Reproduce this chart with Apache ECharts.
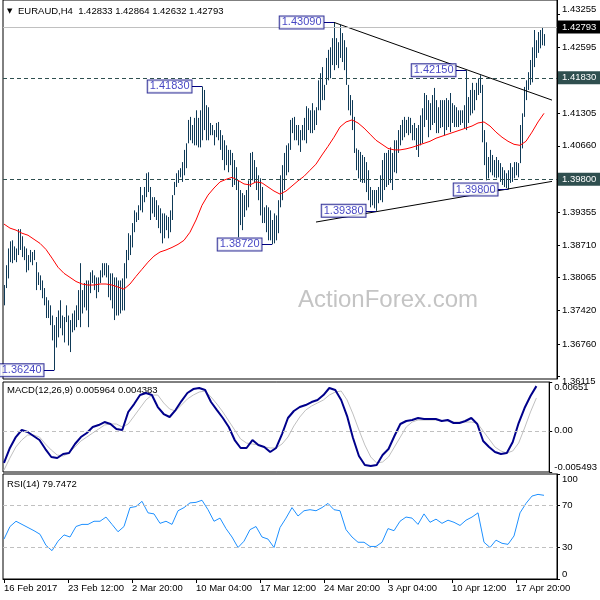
<!DOCTYPE html>
<html>
<head>
<meta charset="utf-8">
<script src="https://cdn.jsdelivr.net/npm/echarts@6.0.0/dist/echarts.min.js"></script>
<style>
  html, body { margin: 0; padding: 0; background: #fff; }
  #chart { width: 600px; height: 600px; }
</style>
</head>
<body>
<div id="chart"></div>
<script>
// EURAUD H4 bars (high / low per bar)
const highs = [
  1.3792, 1.3831, 1.3864, 1.3878, 1.3880, 1.3868, 1.3864, 1.3902, 1.3902, 1.3888,
  1.3868, 1.3864, 1.3851, 1.3861, 1.3857, 1.3861, 1.3837, 1.3817, 1.3811, 1.3801,
  1.3786, 1.3768, 1.3762, 1.3752, 1.3732, 1.3713, 1.3729, 1.3742, 1.3762, 1.3732,
  1.3729, 1.3752, 1.3732, 1.3723, 1.3736, 1.3742, 1.3752, 1.3782, 1.3835, 1.3782,
  1.3796, 1.3801, 1.3801, 1.3817, 1.3821, 1.3811, 1.3807, 1.3807, 1.3821, 1.3835,
  1.3835, 1.3835, 1.3831, 1.3815, 1.3815, 1.3807, 1.3807, 1.3801, 1.3801, 1.3805,
  1.3835, 1.3861, 1.3894, 1.3890, 1.3914, 1.3939, 1.3935, 1.3949, 1.3985, 1.3969,
  1.3985, 1.4012, 1.4014, 1.3985, 1.3965, 1.3965, 1.3959, 1.3949, 1.3943, 1.3933,
  1.3933, 1.3929, 1.3926, 1.3939, 1.3969, 1.3995, 1.4012, 1.4018, 1.4022, 1.4034,
  1.4058, 1.4071, 1.4117, 1.4123, 1.4107, 1.4121, 1.4136, 1.4121, 1.4136, 1.4183,
  1.4176, 1.4146, 1.4142, 1.4111, 1.4107, 1.4097, 1.4111, 1.4113, 1.4097, 1.4087,
  1.4077, 1.4067, 1.4058, 1.4058, 1.4052, 1.4038, 1.4024, 1.3998, 1.3979, 1.3973,
  1.3969, 1.3979, 1.3998, 1.4052, 1.4054, 1.4038, 1.4024, 1.4008, 1.4002, 1.3985,
  1.3945, 1.3949, 1.3945, 1.3939, 1.3920, 1.3933, 1.3929, 1.3959, 1.4008, 1.4028,
  1.4052, 1.4067, 1.4071, 1.4117, 1.4121, 1.4123, 1.4107, 1.4107, 1.4097, 1.4107,
  1.4121, 1.4144, 1.4140, 1.4136, 1.4150, 1.4136, 1.4142, 1.4195, 1.4209, 1.4221,
  1.4186, 1.4239, 1.4255, 1.4260, 1.4278, 1.4309, 1.4278, 1.4270, 1.4304, 1.4288,
  1.4274, 1.4260, 1.4186, 1.4166, 1.4156, 1.4123, 1.4061, 1.4058, 1.4054, 1.4048,
  1.4044, 1.4034, 1.4018, 1.3985, 1.3979, 1.3979, 1.3979, 1.3985, 1.4008, 1.4038,
  1.4052, 1.4052, 1.4058, 1.4063, 1.4052, 1.4077, 1.4077, 1.4097, 1.4107, 1.4117,
  1.4123, 1.4117, 1.4123, 1.4121, 1.4107, 1.4111, 1.4101, 1.4107, 1.4126, 1.4140,
  1.4170, 1.4166, 1.4156, 1.4150, 1.4166, 1.4180, 1.4156, 1.4142, 1.4156, 1.4156,
  1.4156, 1.4160, 1.4156, 1.4170, 1.4150, 1.4146, 1.4142, 1.4136, 1.4136, 1.4136,
  1.4146, 1.4215, 1.4162, 1.4176, 1.4190, 1.4176, 1.4190, 1.4199, 1.4205, 1.4186,
  1.4097, 1.4073, 1.4044, 1.4058, 1.4048, 1.4038, 1.4044, 1.4038, 1.4032, 1.4024,
  1.4018, 1.4012, 1.4018, 1.4032, 1.4024, 1.4034, 1.4034, 1.4032, 1.4107, 1.4130,
  1.4182, 1.4195, 1.4211, 1.4235, 1.4260, 1.4294, 1.4274, 1.4290, 1.4294, 1.4300,
  1.4286
];
const lows = [
  1.3752, 1.3786, 1.3805, 1.3837, 1.3835, 1.3841, 1.3837, 1.3851, 1.3861, 1.3847,
  1.3841, 1.3817, 1.3821, 1.3837, 1.3831, 1.3841, 1.3782, 1.3792, 1.3782, 1.3766,
  1.3752, 1.3727, 1.3727, 1.3713, 1.3683, 1.3624, 1.3669, 1.3689, 1.3707, 1.3693,
  1.3679, 1.3719, 1.3673, 1.3660, 1.3699, 1.3703, 1.3709, 1.3723, 1.3709, 1.3736,
  1.3748, 1.3742, 1.3709, 1.3776, 1.3796, 1.3782, 1.3766, 1.3778, 1.3796, 1.3807,
  1.3811, 1.3807, 1.3768, 1.3762, 1.3746, 1.3723, 1.3732, 1.3732, 1.3736, 1.3742,
  1.3742, 1.3805, 1.3841, 1.3851, 1.3866, 1.3896, 1.3916, 1.3920, 1.3939, 1.3935,
  1.3955, 1.3965, 1.3975, 1.3920, 1.3933, 1.3926, 1.3920, 1.3904, 1.3894, 1.3874,
  1.3884, 1.3900, 1.3884, 1.3896, 1.3920, 1.3969, 1.3985, 1.3993, 1.4004, 1.3995,
  1.4008, 1.4022, 1.4071, 1.4077, 1.4071, 1.4067, 1.4067, 1.4063, 1.4063, 1.4077,
  1.4097, 1.4077, 1.4077, 1.4087, 1.4087, 1.4067, 1.4083, 1.4077, 1.4058, 1.4038,
  1.4018, 1.4028, 1.4014, 1.4028, 1.3985, 1.3989, 1.3979, 1.3886, 1.3910, 1.3900,
  1.3926, 1.3939, 1.3945, 1.3985, 1.3998, 1.3993, 1.3979, 1.3959, 1.3929, 1.3914,
  1.3914, 1.3896, 1.3880, 1.3880, 1.3872, 1.3874, 1.3880, 1.3894, 1.3945, 1.3959,
  1.3979, 1.4008, 1.4014, 1.4058, 1.4091, 1.4077, 1.4077, 1.4067, 1.4054, 1.4077,
  1.4077, 1.4071, 1.4097, 1.4091, 1.4091, 1.4097, 1.4107, 1.4136, 1.4136, 1.4156,
  1.4156, 1.4186, 1.4195, 1.4199, 1.4225, 1.4215, 1.4225, 1.4219, 1.4239, 1.4231,
  1.4215, 1.4186, 1.4136, 1.4126, 1.4097, 1.4052, 1.4018, 1.4002, 1.3995, 1.3993,
  1.3993, 1.3975, 1.3959, 1.3945, 1.3949, 1.3943, 1.3938, 1.3953, 1.3959, 1.3955,
  1.3979, 1.3985, 1.3989, 1.3993, 1.3979, 1.4014, 1.4012, 1.4052, 1.4067, 1.4077,
  1.4083, 1.4091, 1.4087, 1.4091, 1.4077, 1.4077, 1.4058, 1.4044, 1.4067, 1.4071,
  1.4103, 1.4117, 1.4083, 1.4097, 1.4107, 1.4111, 1.4091, 1.4091, 1.4101, 1.4103,
  1.4087, 1.4097, 1.4103, 1.4093, 1.4111, 1.4103, 1.4103, 1.4103, 1.4107, 1.4111,
  1.4101, 1.4097, 1.4111, 1.4126, 1.4130, 1.4136, 1.4156, 1.4166, 1.4170, 1.4073,
  1.4028, 1.3998, 1.4002, 1.4014, 1.4008, 1.4004, 1.4002, 1.4004, 1.3995, 1.3989,
  1.3985, 1.3983, 1.3980, 1.3993, 1.3995, 1.4002, 1.4008, 1.4004, 1.4032, 1.4061,
  1.4123, 1.4156, 1.4176, 1.4186, 1.4191, 1.4221, 1.4239, 1.4249, 1.4258, 1.4264,
  1.4263
];

// indicators read every 3rd bar
const step = 3;
const ma = [
  1.3912, 1.3904, 1.3900, 1.3894, 1.3890, 1.3882, 1.3874, 1.3862, 1.3845, 1.3827,
  1.3815, 1.3807, 1.3799, 1.3794, 1.3792, 1.3792, 1.3794, 1.3794, 1.3792, 1.3788,
  1.3784, 1.3794, 1.3809, 1.3823, 1.3837, 1.3849, 1.3857, 1.3861, 1.3866, 1.3872,
  1.3880, 1.3896, 1.3920, 1.3949, 1.3969, 1.3983, 1.3995, 1.4000, 1.4004, 1.3998,
  1.3991, 1.3989, 1.3995, 1.3993, 1.3985, 1.3977, 1.3971, 1.3977, 1.3987, 1.3997,
  1.4006, 1.4018, 1.4030, 1.4048, 1.4065, 1.4083, 1.4103, 1.4113, 1.4117, 1.4111,
  1.4101, 1.4089, 1.4077, 1.4069, 1.4061, 1.4058, 1.4058, 1.4060, 1.4063, 1.4067,
  1.4071, 1.4075, 1.4081, 1.4085, 1.4089, 1.4093, 1.4097, 1.4101, 1.4105, 1.4111,
  1.4113, 1.4105, 1.4093, 1.4083, 1.4075, 1.4069, 1.4067, 1.4075, 1.4093, 1.4113,
  1.4130
];
const macd = [
  -0.00429, -0.00229, -0.00083, 0.00011, -0.00016, -0.00069, -0.00123, -0.00243, -0.00349, -0.00363,
  -0.00309, -0.00296, -0.00176, -0.00083, -0.00029, 0.00051, 0.00077, 0.00117, 0.00091, 0.00024,
  0.00011, 0.00251, 0.00357, 0.00477, 0.00504, 0.00477, 0.00317, 0.00224, 0.00184, 0.00277,
  0.00397, 0.00504, 0.00557, 0.00571, 0.00544, 0.00384, 0.00277, 0.00171, 0.00051, -0.00123,
  -0.00229, -0.00229, -0.00123, -0.00189, -0.00216, -0.00283, -0.00229, -0.00043, 0.00171, 0.00264,
  0.00317, 0.00344, 0.00384, 0.00411, 0.00477, 0.00571, 0.00544, 0.00411, 0.00197, -0.00096,
  -0.00336, -0.00456, -0.00469, -0.00456, -0.00323, -0.00243, -0.00069, 0.00091, 0.00131, 0.00144,
  0.00171, 0.00157, 0.00157, 0.00157, 0.00131, 0.00144, 0.00104, 0.00104, 0.00131, 0.00171,
  0.00091, -0.00136, -0.00216, -0.00283, -0.00309, -0.00296, -0.00149, 0.00104, 0.00304, 0.00464,
  0.00596
];
const signal = [
  -0.00523, -0.00363, -0.00216, -0.00123, -0.00056, -0.00056, -0.00083, -0.00176, -0.00256, -0.00323,
  -0.00336, -0.00296, -0.00216, -0.00136, -0.00083, -0.00029, 0.00024, 0.00077, 0.00091, 0.00091,
  0.00051, 0.00091, 0.00197, 0.00304, 0.00411, 0.00477, 0.00477, 0.00371, 0.00291, 0.00264,
  0.00344, 0.00424, 0.00477, 0.00517, 0.00531, 0.00451, 0.00357, 0.00251, 0.00131, 0.00011,
  -0.00109, -0.00163, -0.00176, -0.00189, -0.00216, -0.00229, -0.00229, -0.00176, -0.00083, 0.00064,
  0.00184, 0.00277, 0.00331, 0.00371, 0.00411, 0.00477, 0.00517, 0.00531, 0.00411, 0.00224,
  0.00011, -0.00189, -0.00349, -0.00429, -0.00416, -0.00349, -0.00216, -0.00083, 0.00051, 0.00117,
  0.00144, 0.00144, 0.00144, 0.00144, 0.00131, 0.00131, 0.00117, 0.00117, 0.00117, 0.00117,
  0.00104, -0.00003, -0.00109, -0.00216, -0.00269, -0.00296, -0.00269, -0.00163, 0.00037, 0.00251,
  0.00438
];
const rsi = [
  38, 50, 55, 52, 49, 46, 42.6, 32, 27, 36,
  42, 40, 50, 52, 52, 55, 55, 59, 52, 45,
  50, 68, 69, 74, 63, 62, 53, 55, 52, 65,
  68, 72.5, 73, 75, 66, 55, 58, 48, 40, 30,
  36, 47, 50, 40, 38, 30, 49, 58, 68, 60,
  65, 66, 65, 68, 72, 66, 65, 47, 40, 35,
  35, 31, 31, 35, 48, 46, 55, 59, 58, 52,
  62, 54, 57, 53, 56, 54, 51, 56, 59, 63,
  35, 30, 37, 34, 33, 41, 63, 72, 79, 80.6,
  79.7
];

// axis labels
const tickLabels = ['16 Feb 2017', '23 Feb 12:00', '2 Mar 20:00', '10 Mar 04:00', '17 Mar 12:00',
  '24 Mar 20:00', '3 Apr 04:00', '10 Apr 12:00', '17 Apr 20:00'];
const tickBars = [0, 32, 64, 96, 128, 160, 192, 224, 256];
const priceTicks = [1.43255, 1.42595, 1.4195, 1.41305, 1.4066, 1.40015, 1.39355, 1.3871,
  1.38065, 1.3742, 1.3676, 1.36115];
const macdTicks = [-0.005493, 0, 0.00651];
const rsiTicks = [0, 30, 70, 100];

// marked highs/lows and drawn lines
const annBars = [165, 99, 231, 186, 134, 252, 25];
const annPrices = [1.4309, 1.4183, 1.4215, 1.3938, 1.3872, 1.3980, 1.3624];
const levelPrices = [1.4183, 1.3980];
const currentPrice = 1.42793;
const upperTrend = [[165, 1.4309], [274, 1.4156]];
const lowerTrend = [[156, 1.3916], [274, 1.3996]];

const N = 277;
const categories = Array.from({ length: N }, (_, i) => String(i));
const labelAt = {};
tickBars.forEach((b, k) => { labelAt[b] = tickLabels[k]; });

const font = '"Liberation Sans", Arial, sans-serif';
const fs = 9.5;
const barColor = '#0f3a57';

function sampled(arr) {
  return arr.map((v, k) => [k * step, v]);
}

function xAxisFor(gi, show) {
  return {
    type: 'category', gridIndex: gi, data: categories, boundaryGap: true,
    axisLine: { show: show, lineStyle: { color: '#000' } },
    axisTick: {
      show: show, alignWithLabel: true, length: 4,
      interval: (i) => labelAt[i] !== undefined, lineStyle: { color: '#000' }
    },
    axisLabel: {
      show: show, interval: (i) => labelAt[i] !== undefined,
      formatter: (v) => labelAt[+v] || '', align: 'left', margin: 4,
      color: '#000', fontSize: fs, fontFamily: font
    },
    splitLine: { show: false }
  };
}

function yAxisFor(gi, min, max, ticks, fmt) {
  return {
    type: 'value', gridIndex: gi, position: 'right', min: min, max: max,
    axisLine: { show: true, lineStyle: { color: '#000' } },
    axisTick: { show: true, customValues: ticks, length: 3, lineStyle: { color: '#000' } },
    axisLabel: {
      customValues: ticks, formatter: fmt, margin: 5, color: '#000',
      fontSize: fs, fontFamily: font,
      verticalAlignMinLabel: 'bottom', verticalAlignMaxLabel: 'top'
    },
    splitLine: { show: false }
  };
}

const gridBase = { left: 3, right: 43, show: true, borderColor: '#000', borderWidth: 1, backgroundColor: 'transparent' };

const priceLine = [{
  yAxis: currentPrice,
  lineStyle: { color: '#c0c0c0', type: 'solid', width: 1 },
  label: { formatter: currentPrice.toFixed(5), backgroundColor: '#000' }
}].concat(levelPrices.map((p) => ({
  yAxis: p,
  lineStyle: { color: '#2f4f4f', type: [4, 3], width: 1 },
  label: { formatter: p.toFixed(5), backgroundColor: '#2f4f4f' }
})));

const myChart = echarts.init(document.getElementById('chart'));
myChart.setOption({
  animation: false,
  grid: [
    Object.assign({ top: 0, height: 379 }, gridBase),
    Object.assign({ top: 382, height: 90 }, gridBase),
    Object.assign({ top: 474, height: 105 }, gridBase)
  ],
  xAxis: [xAxisFor(0, false), xAxisFor(1, false), xAxisFor(2, true)],
  yAxis: [
    yAxisFor(0, 1.3607, 1.43531, priceTicks, (v) => v.toFixed(5)),
    yAxisFor(1, -0.005493, 0.00651, macdTicks, (v) => (v === 0 ? '0.00' : String(v))),
    yAxisFor(2, 0, 100, rsiTicks, (v) => String(v))
  ],
  graphic: [
    { type: 'text', left: 298, top: 288, z: -1,
      style: { text: 'ActionForex.com', fill: '#c4c4c4', font: '24px ' + font } },
    { type: 'text', left: 7, top: 8,
      style: { text: '▼', fill: '#000', font: '7px "DejaVu Sans"' } },
    { type: 'text', left: 18, top: 6,
      style: { text: 'EURAUD,H4  1.42833 1.42864 1.42632 1.42793', fill: '#000', font: fs + 'px ' + font } },
    { type: 'text', left: 7, top: 385,
      style: { text: 'MACD(12,26,9) 0.005964 0.004383', fill: '#000', font: fs + 'px ' + font } },
    { type: 'text', left: 7, top: 479,
      style: { text: 'RSI(14) 79.7472', fill: '#000', font: fs + 'px ' + font } }
  ],
  series: [
    {
      type: 'custom', xAxisIndex: 0, yAxisIndex: 0,
      data: highs.map((h, i) => [i, lows[i], h]),
      encode: { x: 0, y: [1, 2] },
      renderItem: function (params, api) {
        const lo = api.coord([api.value(0), api.value(1)]);
        const hi = api.coord([api.value(0), api.value(2)]);
        const px = Math.round(lo[0]) + 0.5;
        return {
          type: 'line',
          shape: { x1: px, y1: lo[1], x2: px, y2: hi[1] },
          style: { stroke: barColor, lineWidth: 1 }
        };
      }
    },
    {
      type: 'line', xAxisIndex: 0, yAxisIndex: 0, data: sampled(ma),
      showSymbol: false, symbol: 'none', lineStyle: { color: '#ff0000', width: 1 },
      markLine: {
        silent: true, symbol: ['none', 'none'],
        label: { show: true, position: 'end', distance: 1, color: '#fff', padding: [2, 4, 1, 4],
          fontSize: fs, fontFamily: font },
        data: priceLine
      }
    },
    {
      type: 'line', xAxisIndex: 0, yAxisIndex: 0, data: upperTrend,
      symbol: 'none', lineStyle: { color: '#000', width: 1 }
    },
    {
      type: 'line', xAxisIndex: 0, yAxisIndex: 0, data: lowerTrend,
      symbol: 'none', lineStyle: { color: '#000', width: 1 }
    },
    {
      type: 'scatter', xAxisIndex: 0, yAxisIndex: 0, z: 5,
      data: annBars.map((b, k) => [b, annPrices[k]]),
      symbolSize: 1, itemStyle: { color: 'rgba(0,0,0,0)' },
      label: {
        show: true, position: 'left', distance: 10,
        formatter: (p) => p.value[1].toFixed(5),
        color: '#1414b4', backgroundColor: '#ffffff', borderColor: '#000080', borderWidth: 1,
        textBorderWidth: 0, textShadowBlur: 0,
        padding: [1, 2, 0, 2], fontSize: 11, fontFamily: font
      },
      markLine: {
        silent: true, symbol: ['none', 'none'], label: { show: false },
        lineStyle: { color: '#000080', type: 'solid', width: 1 },
        data: annBars.map((b, k) => [{ coord: [b - 5, annPrices[k]] }, { coord: [b, annPrices[k]] }])
      }
    },
    {
      type: 'line', xAxisIndex: 1, yAxisIndex: 1, data: sampled(signal),
      symbol: 'none', lineStyle: { color: '#c0c0c0', width: 1 },
      markLine: {
        silent: true, symbol: ['none', 'none'], label: { show: false },
        lineStyle: { color: '#c0c0c0', type: [4, 3], width: 1 },
        data: [{ yAxis: 0 }]
      }
    },
    {
      type: 'line', xAxisIndex: 1, yAxisIndex: 1, data: sampled(macd),
      symbol: 'none', lineStyle: { color: '#00008b', width: 2 }
    },
    {
      type: 'line', xAxisIndex: 2, yAxisIndex: 2, data: sampled(rsi),
      symbol: 'none', lineStyle: { color: '#1e90ff', width: 1 },
      markLine: {
        silent: true, symbol: ['none', 'none'], label: { show: false },
        lineStyle: { color: '#c0c0c0', type: [4, 3], width: 1 },
        data: [{ yAxis: 70 }, { yAxis: 30 }]
      }
    }
  ]
});
</script>
</body>
</html>
